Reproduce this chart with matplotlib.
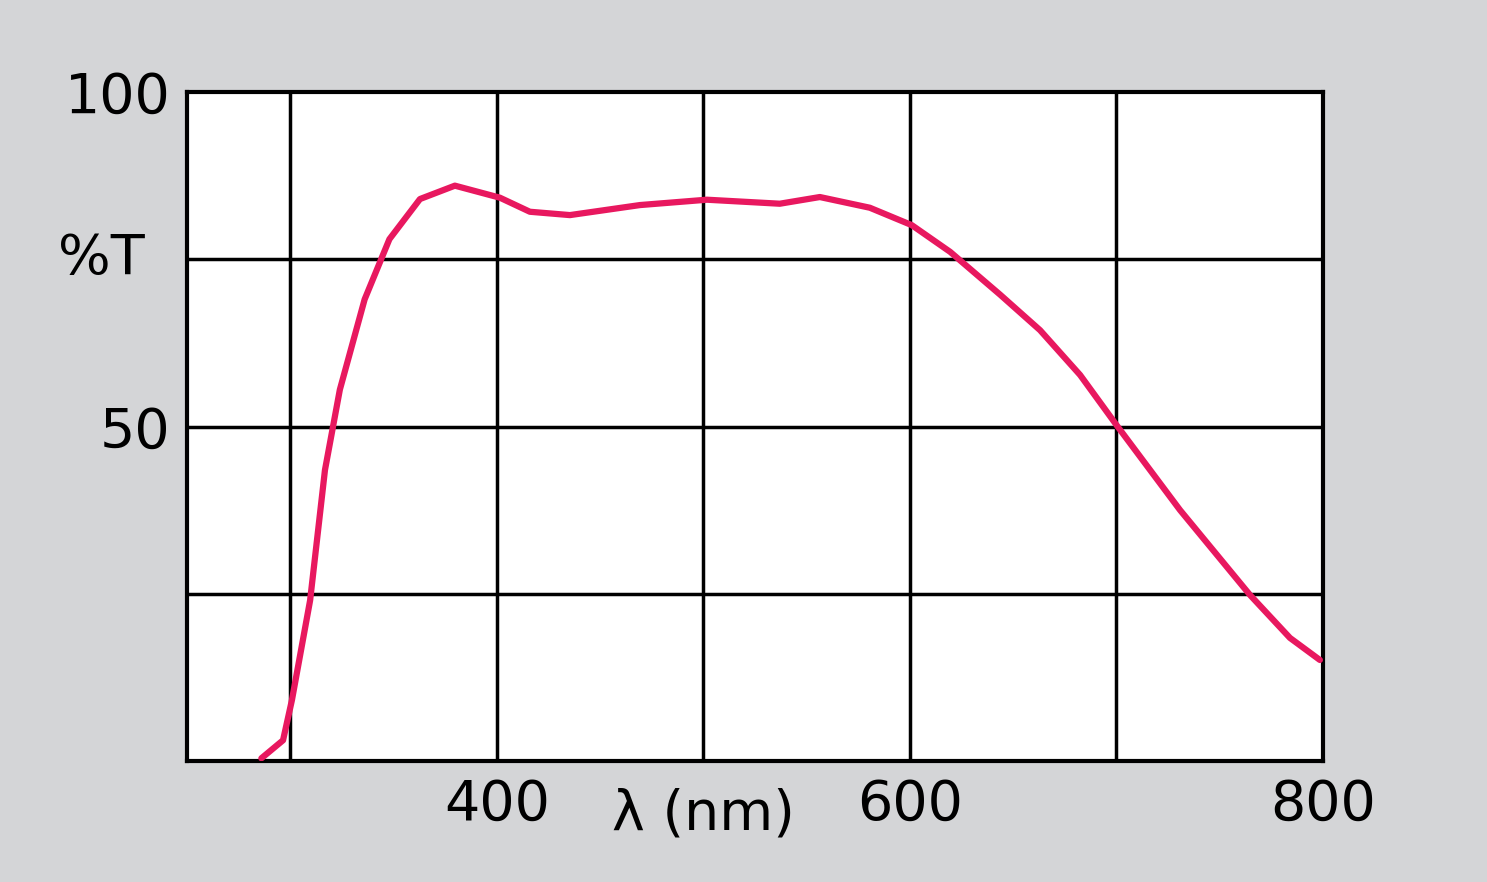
import matplotlib.pyplot as plt

# transmission curve
wavelength = [286, 296.5, 300.8, 309.6, 316.8, 324, 336, 348, 362.8, 379.7, 401.5,
              416, 435.4, 469.3, 501.7, 537, 556.4, 580.6, 600.9, 619.5, 643.7,
              663, 682.4, 700.3, 730.8, 764.7, 784, 798.5]
transmission = [0.4, 3.1, 9.1, 24, 43.5, 55.5, 69, 78, 84, 86, 84.2,
                 82.1, 81.6, 83.1, 83.9, 83.3, 84.3, 82.7, 80.1, 76.1, 69.7,
                 64.4, 57.7, 50.1, 37.5, 24.8, 18.4, 15.1]

xticks = [400, 600, 800]
yticks = [50, 100]

bg = '#d4d5d7'
fig = plt.figure(figsize=(14.87, 8.82), dpi=100, facecolor=bg)
ax = fig.add_axes([187/1487, 1-761/882, 1136/1487, 669/882])
ax.set_facecolor('white')
ax.set_xlim(250, 800)
ax.set_ylim(0, 100)

for gx in [300, 400, 500, 600, 700]:
    ax.axvline(gx, color='black', lw=2.5, zorder=1)
for gy in [25, 50, 75]:
    ax.axhline(gy, color='black', lw=2.5, zorder=1)
for s in ax.spines.values():
    s.set_linewidth(3)

ax.plot(wavelength, transmission, color='#e8185f', lw=4.5, solid_capstyle='round', zorder=3)

ax.set_xticks(xticks)
ax.set_xticklabels([str(v) for v in xticks])
ax.set_yticks(yticks)
ax.set_yticklabels([str(v) for v in yticks])
ax.tick_params(length=0, labelsize=40, pad=12)
ax.text(-0.075, 0.75, '%T', transform=ax.transAxes, fontsize=40, ha='center', va='center')
ax.text(500, -8, 'λ (nm)', fontsize=40, ha='center', va='center')

fig.savefig('out.png', dpi=100, facecolor=bg)
